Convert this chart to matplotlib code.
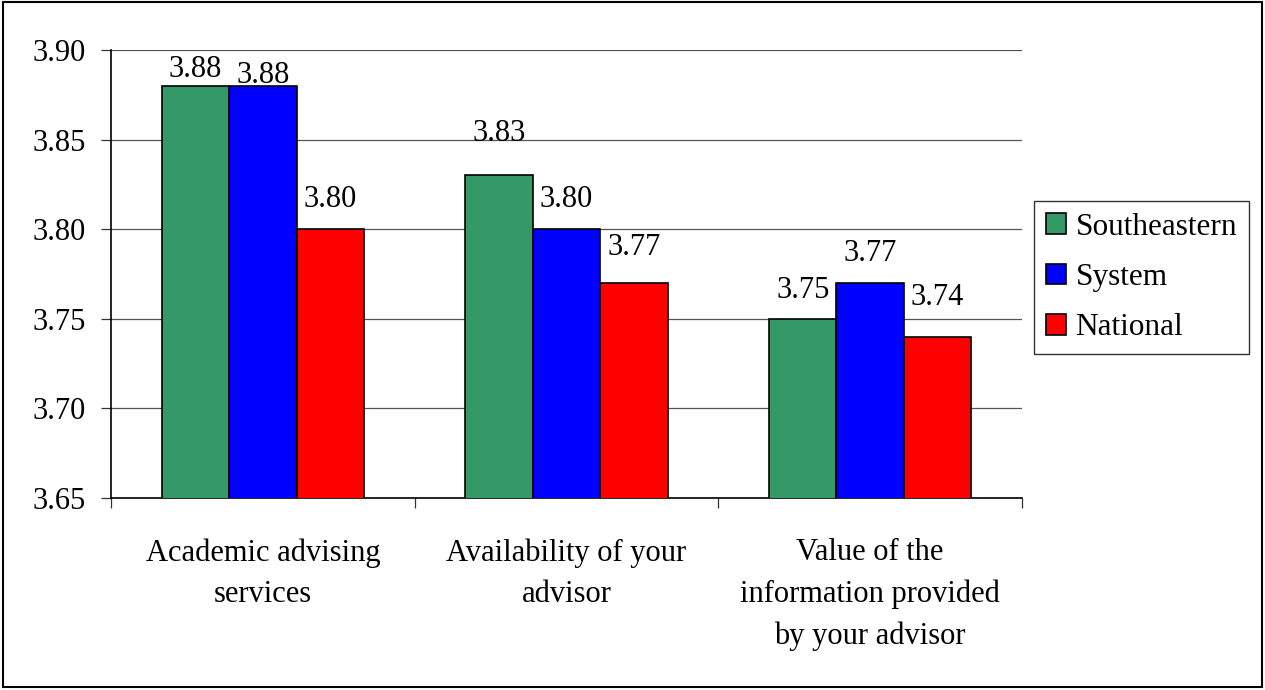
import numpy as np
import matplotlib
matplotlib.use('Agg')
import matplotlib.pyplot as plt
from matplotlib.patches import Rectangle

plt.rcParams['font.family'] = ['Liberation Serif', 'DejaVu Serif']

# data
categories = ['Academic advising\nservices',
              'Availability of your\nadvisor',
              'Value of the\ninformation provided\nby your advisor']
series = ['Southeastern', 'System', 'National']
southeastern = [3.88, 3.83, 3.75]
system = [3.88, 3.80, 3.77]
national = [3.80, 3.77, 3.74]
yticks = [3.65, 3.70, 3.75, 3.80, 3.85, 3.90]

colors = ['#339966', '#0000FF', '#FF0000']
# gap (points) between bar top and label baseline, as Excel placed them
label_gap = [[6.5, 2.2, 15.8], [24.5, 15.8, 20.2], [15.1, 15.8, 23.0]]
fs = 22

fig = plt.figure(figsize=(12.65, 6.9), dpi=100)
ax = fig.add_axes([111 / 1265, 1 - 498 / 690, 911 / 1265, 448 / 690])

x = np.arange(len(categories))
width = 0.222
values = [southeastern, system, national]

for i, (name, vals) in enumerate(zip(series, values)):
    pos = x + (i - 1) * width
    ax.bar(pos, vals, width, bottom=0, color=colors[i], edgecolor='black',
           linewidth=1.2, label=name, zorder=3)
    for j, v in enumerate(vals):
        ax.annotate(f'{v:.2f}', (pos[j], v), xytext=(0, label_gap[j][i]),
                    textcoords='offset points', ha='center', va='baseline',
                    fontsize=fs, annotation_clip=False)

ax.set_ylim(3.65, 3.90)
ax.set_xlim(-0.5, 2.5)
ax.set_yticks(yticks)
ax.set_yticklabels([f'{t:.2f}' for t in yticks])
ax.yaxis.grid(True, color='#555555', linewidth=0.9, zorder=0)

ax.set_xticks(x)
ax.set_xticklabels(categories, linespacing=1.55)
ax.set_xticks([-0.5, 0.5, 1.5, 2.5], minor=True)
ax.tick_params(axis='x', which='major', length=0, pad=29, labelsize=fs)
ax.tick_params(axis='x', which='minor', length=7, width=0.9, color='#333333')
ax.tick_params(axis='y', length=7, width=0.9, pad=11, labelsize=fs, color='#333333')

for s in ['top', 'right']:
    ax.spines[s].set_visible(False)
for s in ['left', 'bottom']:
    ax.spines[s].set_color('black')
    ax.spines[s].set_linewidth(1.2)

leg = ax.legend(loc='center left', bbox_to_anchor=(1034 / 1265, 1 - 277.5 / 690),
                bbox_transform=fig.transFigure, fontsize=22.5, frameon=True,
                fancybox=False, handlelength=0.65, handleheight=0.65,
                handletextpad=0.3, labelspacing=0.68, borderpad=0.38,
                borderaxespad=0)
leg.get_frame().set_edgecolor('black')
leg.get_frame().set_linewidth(1.0)

fig.patches.append(Rectangle((3 / 1265, 3 / 690), 1259 / 1265, 685 / 690,
                             transform=fig.transFigure, fill=False,
                             edgecolor='black', linewidth=1.5))

plt.savefig('out.png', dpi=100)
